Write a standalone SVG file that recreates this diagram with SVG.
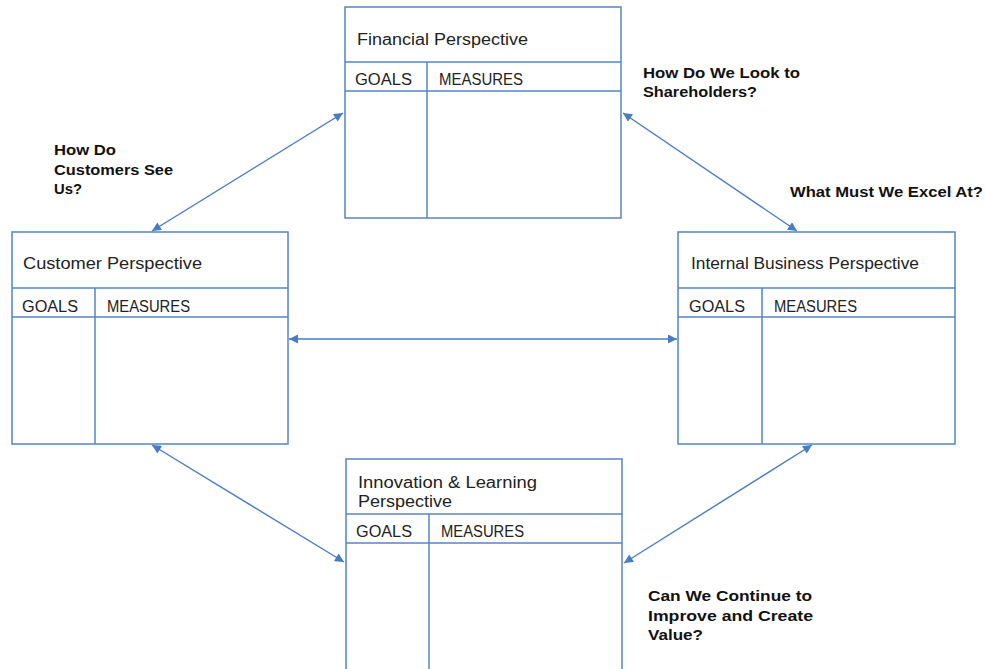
<svg xmlns="http://www.w3.org/2000/svg" width="985" height="669" viewBox="0 0 985 669">
<style>
.box{fill:#fff;stroke:#5584C4;stroke-width:1.5}
.ln{stroke:#5584C4;stroke-width:1.5;fill:none}
.t{font-family:"Liberation Sans",Arial,sans-serif;font-size:16px;fill:#222}
.q{font-family:"Liberation Sans",Arial,sans-serif;font-size:14px;font-weight:bold;fill:#111}
.c{stroke:#4A7CC0;stroke-width:1.4;fill:none;marker-start:url(#ah);marker-end:url(#ah)}
</style>
<defs>
<marker id="ah" viewBox="0 0 10 10" refX="10" refY="5" markerWidth="10" markerHeight="9" markerUnits="userSpaceOnUse" orient="auto-start-reverse">
<path d="M0,0 L10,5 L0,10 z" fill="#4A7CC0"/>
</marker>
</defs>
<rect width="985" height="669" fill="#fff"/>
<g id="connectors">
<line class="c" x1="152" y1="231" x2="343" y2="113"/>
<line class="c" x1="623" y1="113" x2="797" y2="231"/>
<line class="c" x1="289" y1="339" x2="677" y2="339"/>
<line class="c" x1="152" y1="445" x2="344" y2="562"/>
<line class="c" x1="812" y1="445" x2="624" y2="563"/>
</g>
<g id="financial">
<rect class="box" x="345" y="7" width="276" height="211"/>
<line class="ln" x1="345" y1="62" x2="621" y2="62"/>
<line class="ln" x1="345" y1="91" x2="621" y2="91"/>
<line class="ln" x1="427" y1="62" x2="427" y2="218"/>
<text class="t" x="357" y="45" textLength="171" lengthAdjust="spacingAndGlyphs">Financial Perspective</text>
<text class="t" x="355" y="85" textLength="57" lengthAdjust="spacingAndGlyphs">GOALS</text>
<text class="t" x="439" y="85" textLength="84" lengthAdjust="spacingAndGlyphs">MEASURES</text>
</g>
<g id="customer">
<rect class="box" x="12" y="232" width="276" height="212"/>
<line class="ln" x1="12" y1="288" x2="288" y2="288"/>
<line class="ln" x1="12" y1="317" x2="288" y2="317"/>
<line class="ln" x1="95" y1="288" x2="95" y2="444"/>
<text class="t" x="23" y="269" textLength="179" lengthAdjust="spacingAndGlyphs">Customer Perspective</text>
<text class="t" x="22" y="312" textLength="56" lengthAdjust="spacingAndGlyphs">GOALS</text>
<text class="t" x="107" y="312" textLength="83" lengthAdjust="spacingAndGlyphs">MEASURES</text>
</g>
<g id="internal">
<rect class="box" x="678" y="232" width="277" height="212"/>
<line class="ln" x1="678" y1="288" x2="955" y2="288"/>
<line class="ln" x1="678" y1="317" x2="955" y2="317"/>
<line class="ln" x1="762" y1="288" x2="762" y2="444"/>
<text class="t" x="691" y="269" textLength="228" lengthAdjust="spacingAndGlyphs">Internal Business Perspective</text>
<text class="t" x="689" y="312" textLength="56" lengthAdjust="spacingAndGlyphs">GOALS</text>
<text class="t" x="774" y="312" textLength="83" lengthAdjust="spacingAndGlyphs">MEASURES</text>
</g>
<g id="innovation">
<rect class="box" x="346" y="459" width="276" height="220"/>
<line class="ln" x1="346" y1="514" x2="622" y2="514"/>
<line class="ln" x1="346" y1="543" x2="622" y2="543"/>
<line class="ln" x1="429" y1="514" x2="429" y2="679"/>
<text class="t" x="358" y="488" textLength="179" lengthAdjust="spacingAndGlyphs">Innovation &amp; Learning</text>
<text class="t" x="358" y="507" textLength="94" lengthAdjust="spacingAndGlyphs">Perspective</text>
<text class="t" x="356" y="537" textLength="56" lengthAdjust="spacingAndGlyphs">GOALS</text>
<text class="t" x="441" y="537" textLength="83" lengthAdjust="spacingAndGlyphs">MEASURES</text>
</g>
<g id="labels">
<text class="q" x="643" y="78" textLength="157" lengthAdjust="spacingAndGlyphs">How Do We Look to</text>
<text class="q" x="643" y="97" textLength="114" lengthAdjust="spacingAndGlyphs">Shareholders?</text>
<text class="q" x="790" y="197" textLength="193" lengthAdjust="spacingAndGlyphs">What Must We Excel At?</text>
<text class="q" x="54" y="155" textLength="62" lengthAdjust="spacingAndGlyphs">How Do</text>
<text class="q" x="54" y="175" textLength="119" lengthAdjust="spacingAndGlyphs">Customers See</text>
<text class="q" x="54" y="194" textLength="28" lengthAdjust="spacingAndGlyphs">Us?</text>
<text class="q" x="648" y="601" textLength="164" lengthAdjust="spacingAndGlyphs">Can We Continue to</text>
<text class="q" x="648" y="621" textLength="165" lengthAdjust="spacingAndGlyphs">Improve and Create</text>
<text class="q" x="648" y="640" textLength="55" lengthAdjust="spacingAndGlyphs">Value?</text>
</g>
</svg>
